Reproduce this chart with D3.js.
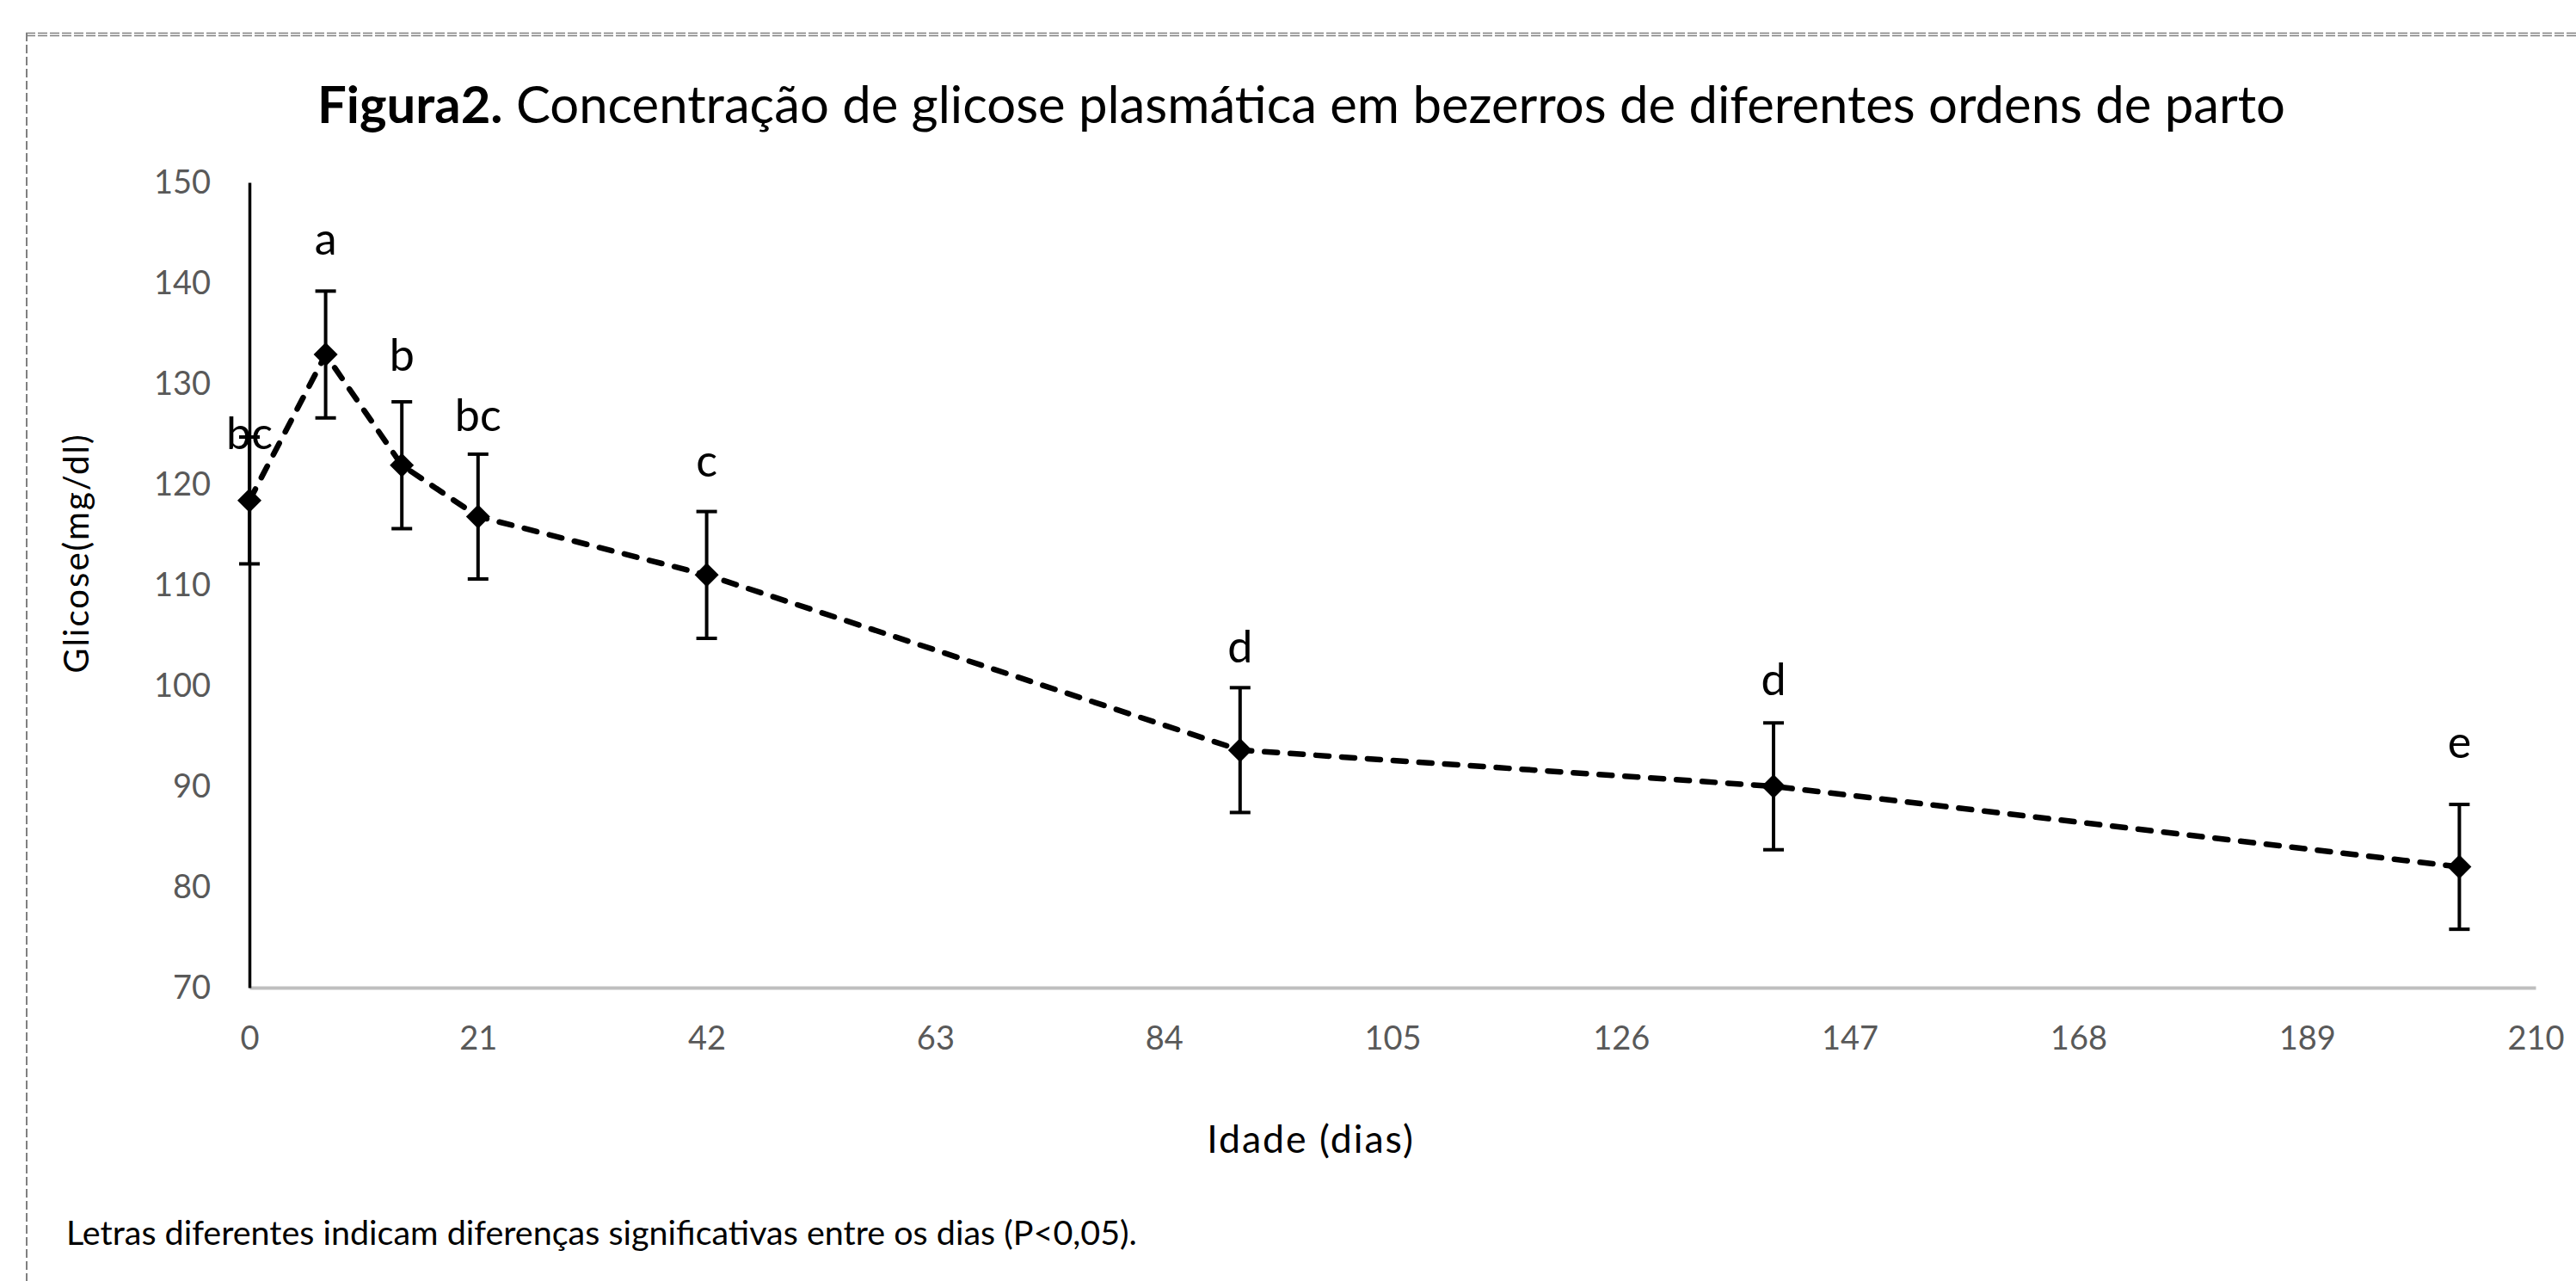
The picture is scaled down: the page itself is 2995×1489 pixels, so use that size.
<!DOCTYPE html>
<html>
<head>
<meta charset="utf-8">
<script src="https://cdn.jsdelivr.net/npm/d3@7"></script>
<style>
  html, body { margin: 0; padding: 0; background: #fff; }
  svg { display: block; }
  text { font-family: Lato, "Open Sans", sans-serif; }
</style>
</head>
<body>
<svg id="chart" width="2995" height="1489"></svg>
<script>
// ---- data ----
const days = [0, 7, 14, 21, 42, 91, 140, 203];
const glucose = [118.4, 132.9, 121.9, 116.8, 111.0, 93.6, 90.0, 82.0];
const errors = [6.3, 6.3, 6.3, 6.2, 6.3, 6.2, 6.3, 6.2];
const letters = ["bc", "a", "b", "bc", "c", "d", "d", "e"];
const letterAt = [123.5, 142.8, 131.3, 125.3, 120.8, 102.3, 99.1, 92.8];
const xTicks = [0, 21, 42, 63, 84, 105, 126, 147, 168, 189, 210];
const yTicks = [70, 80, 90, 100, 110, 120, 130, 140, 150];
const titleBold = "Figura2.";
const titleRest = " Concentração de glicose plasmática em bezerros de diferentes ordens de parto";
const yTitle = "Glicose(mg/dl)";
const xTitle = "Idade (dias)";
const note = "Letras diferentes indicam diferenças significativas entre os dias (P<0,05).";

const svg = d3.select("#chart");
const W = 2995, H = 1489;

// ---- frame (dashed border) ----
const frame = svg.append("g").attr("stroke", "#808080").attr("fill", "none");
frame.append("line").attr("x1", 30).attr("x2", W).attr("y1", 38.5).attr("y2", 38.5)
  .attr("stroke-width", 1.6).attr("stroke-dasharray", "11,3");
frame.append("line").attr("x1", 30).attr("x2", W).attr("y1", 41.5).attr("y2", 41.5)
  .attr("stroke-width", 1.6).attr("stroke-dasharray", "11,3");
frame.append("line").attr("x1", 31).attr("x2", 31).attr("y1", 38).attr("y2", H)
  .attr("stroke-width", 2).attr("stroke-dasharray", "10,4");

// ---- scales ----
const x = d3.scaleLinear().domain([0, 210]).range([290, 2948]);
const y = d3.scaleLinear().domain([70, 150]).range([1148, 212]);

// ---- axes ----
const xAxis = svg.append("g").attr("transform", `translate(0,${y(70)})`)
  .call(d3.axisBottom(x).tickValues(xTicks).tickSize(0).tickSizeOuter(0).tickPadding(45));
xAxis.select(".domain").attr("stroke", "#bfbfbf").attr("stroke-width", 4);
xAxis.selectAll("text").attr("font-size", 38).attr("fill", "#595959")
  .attr("font-family", "Lato, sans-serif");

const yAxis = svg.append("g").attr("transform", `translate(${x(0)},0)`)
  .call(d3.axisLeft(y).tickValues(yTicks).tickSize(0).tickSizeOuter(0).tickPadding(45));
yAxis.select(".domain").attr("stroke", "#000").attr("stroke-width", 3.5);
yAxis.selectAll("text").attr("font-size", 38).attr("fill", "#595959")
  .attr("font-family", "Lato, sans-serif");

// ---- data series ----
const pts = days.map((d, i) => ({ d, v: glucose[i], e: errors[i], l: letters[i], la: letterAt[i] }));

const line = d3.line().x(p => x(p.d)).y(p => y(p.v));
svg.append("path").datum(pts).attr("d", line)
  .attr("fill", "none").attr("stroke", "#000").attr("stroke-width", 6.5)
  .attr("stroke-dasharray", "15,15").attr("stroke-linecap", "round");

// error bars
const eb = svg.append("g").attr("stroke", "#000").attr("stroke-width", 4);
pts.forEach(p => {
  const cx = x(p.d);
  eb.append("line").attr("x1", cx).attr("x2", cx).attr("y1", y(p.v - p.e)).attr("y2", y(p.v + p.e));
  eb.append("line").attr("x1", cx - 12).attr("x2", cx + 12).attr("y1", y(p.v - p.e)).attr("y2", y(p.v - p.e));
  eb.append("line").attr("x1", cx - 12).attr("x2", cx + 12).attr("y1", y(p.v + p.e)).attr("y2", y(p.v + p.e));
});

// markers (diamonds)
const dm = 14;
svg.append("g").selectAll("path").data(pts).join("path")
  .attr("d", p => `M${x(p.d)},${y(p.v) - dm}L${x(p.d) + dm},${y(p.v)}L${x(p.d)},${y(p.v) + dm}L${x(p.d) - dm},${y(p.v)}Z`)
  .attr("fill", "#000");

// significance letters
svg.append("g").selectAll("text").data(pts).join("text")
  .attr("x", p => x(p.d)).attr("y", p => y(p.la))
  .attr("text-anchor", "middle").attr("font-size", 52).attr("fill", "#000")
  .text(p => p.l);

// ---- titles ----
const title = svg.append("text").attr("x", 1513).attr("y", 143)
  .attr("text-anchor", "middle").attr("font-size", 56).attr("fill", "#000");
title.append("tspan").attr("font-weight", "bold").text(titleBold);
title.append("tspan").text(titleRest);

function fit(sel, target) {
  const n = sel.node();
  const fs = +sel.attr("font-size");
  const w = n.getComputedTextLength();
  if (w > 0) sel.attr("font-size", (fs * target / w).toFixed(2));
}
fit(title, 2288);

const yt = svg.append("text").attr("transform", "translate(103,643) rotate(-90)")
  .attr("text-anchor", "middle").attr("font-size", 38).attr("fill", "#000")
  .attr("letter-spacing", 2).text(yTitle);
fit(yt, 281);

const xt = svg.append("text").attr("x", 1524).attr("y", 1340)
  .attr("text-anchor", "middle").attr("font-size", 38).attr("fill", "#000")
  .attr("letter-spacing", 2).text(xTitle);
fit(xt, 246);

const nt = svg.append("text").attr("x", 77).attr("y", 1447)
  .attr("font-size", 32).attr("fill", "#000").text(note);
fit(nt, 1245);
</script>
</body>
</html>
